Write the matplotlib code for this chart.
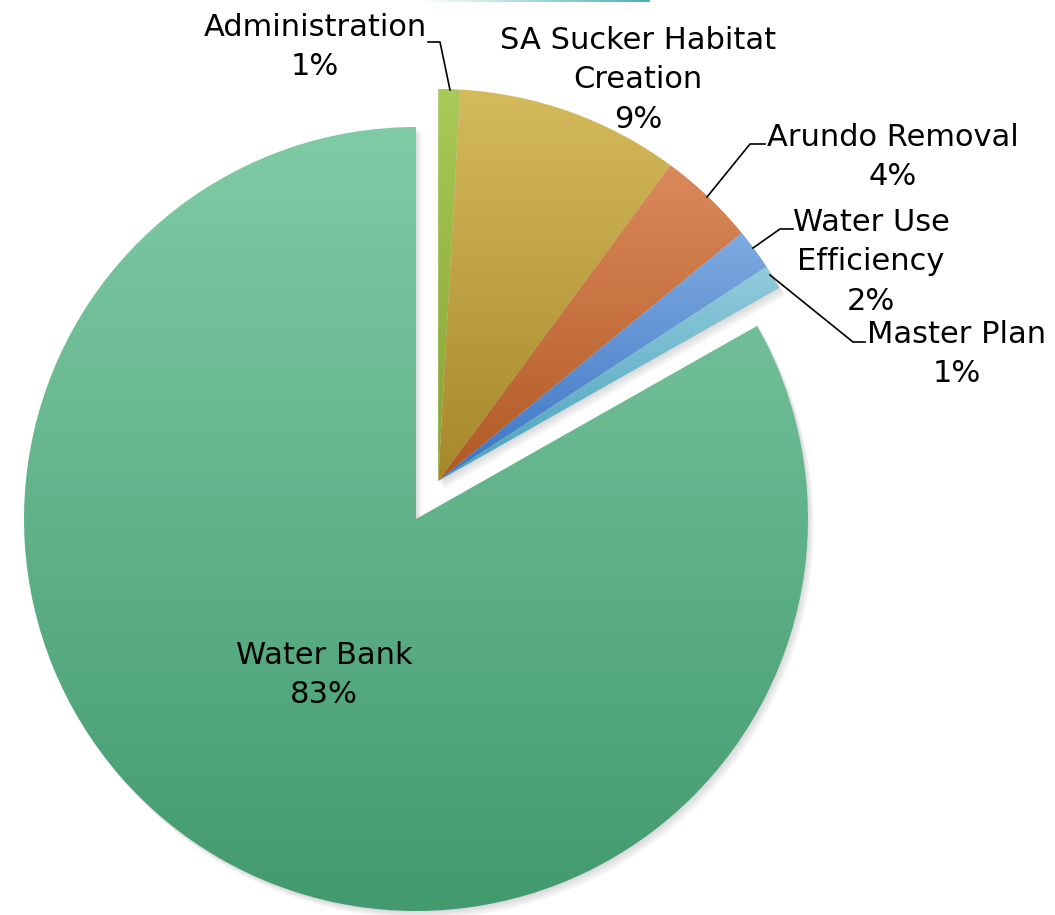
import numpy as np
import matplotlib
matplotlib.use("Agg")
import matplotlib.pyplot as plt
from matplotlib.patches import Wedge
from matplotlib.colors import LinearSegmentedColormap

# data (clockwise from 12 o'clock)
labels = ["Administration", "SA Sucker Habitat\nCreation", "Arundo Removal",
          "Water Use\nEfficiency", "Master Plan", "Water Bank"]
values = [0.9, 9.2, 4.0, 1.7, 1.0, 83.2]
pct_text = ["1%", "9%", "4%", "2%", "1%", "83%"]
# gradient colours: (top, bottom)
colors = [("#a9ca58", "#84a230"), ("#d5ba5c", "#a5882a"), ("#db895c", "#b05923"),
          ("#7eaae0", "#3c75c4"), ("#92cbdb", "#4aa2bd"), ("#7fcba6", "#439a6e")]
group = [0, 1, 2, 3, 4]   # the exploded slices

# pixel helpers, pie centre at (416, 519), radius 392 px
CX, CY, R = 416, 519, 392.0
def px(x, y):
    return ((x - CX) / R, (CY - y) / R)

fig = plt.figure(figsize=(10.55, 9.15), dpi=100)
ax = fig.add_axes([0, 0, 1, 1])

wedges, _ = ax.pie(values, startangle=90, counterclock=False, radius=1,
                   wedgeprops=dict(linewidth=0))

# move the small slices out together along the group bisector
t_hi = wedges[group[0]].theta2
t_lo = wedges[group[-1]].theta1
mid = np.deg2rad((t_hi + t_lo) / 2)
shift = 44 / R
dx, dy = shift * np.cos(mid), shift * np.sin(mid)
for i in group:
    wedges[i].set_center((dx, dy))

# soft shadow
for w in wedges:
    c = w.center
    for k in range(1, 6):
        s = Wedge((c[0] + 0.003 * k, c[1] - 0.004 * k), w.r, w.theta1, w.theta2,
                  facecolor="#808080", edgecolor="none", alpha=0.06, zorder=0.5)
        ax.add_patch(s)

# gradient fill for every slice, clipped to its wedge
grad = np.linspace(0, 1, 256).reshape(-1, 1)
for w, (top, bot) in zip(wedges, colors):
    w.set_facecolor("none")
    w.set_zorder(1)
    bb = w.get_path().get_extents(w.get_patch_transform())
    cmap = LinearSegmentedColormap.from_list("g", [bot, top])
    im = ax.imshow(grad, cmap=cmap, origin="lower", aspect="auto",
                   extent=[bb.x0, bb.x1, bb.y0, bb.y1], zorder=1,
                   interpolation="bilinear")
    im.set_clip_path(w)

# labels
fs = 22
txt = dict(ha="center", va="center", fontsize=fs, color="black", linespacing=1.45, zorder=5)
label_pos = [(315, 47), (638, 80), (893, 157), (871, 262), (957, 354), (324, 675)]
for lab, pc, (x, y) in zip(labels, pct_text, label_pos):
    ax.text(*px(x, y), lab + "\n" + pc, **txt)

# leader lines
leaders = [
    [(428, 42), (440, 42), (450, 90)],
    [(765, 144), (750, 144), (707, 197)],
    [(793, 229), (780, 229), (753, 248)],
    [(865, 342), (853, 342), (770, 275)],
]
for pts in leaders:
    xy = np.array([px(*p) for p in pts])
    ax.plot(xy[:, 0], xy[:, 1], color="black", linewidth=1.2, zorder=4)

# slide decoration at the top edge
strip = np.linspace(0, 1, 256).reshape(1, -1)
x0, y0 = px(420, 2.5)
x1, y1 = px(650, 0)
ax.imshow(strip, cmap=LinearSegmentedColormap.from_list("t", ["#ffffff", "#4aaebd"]),
          extent=[x0, x1, y0, y1], aspect="auto", zorder=3)

xa, ya = px(0, 915)
xb, yb = px(1055, 0)
ax.set_xlim(xa, xb)
ax.set_ylim(ya, yb)
ax.set_aspect("auto")
ax.axis("off")

plt.savefig("out.png", dpi=100)
